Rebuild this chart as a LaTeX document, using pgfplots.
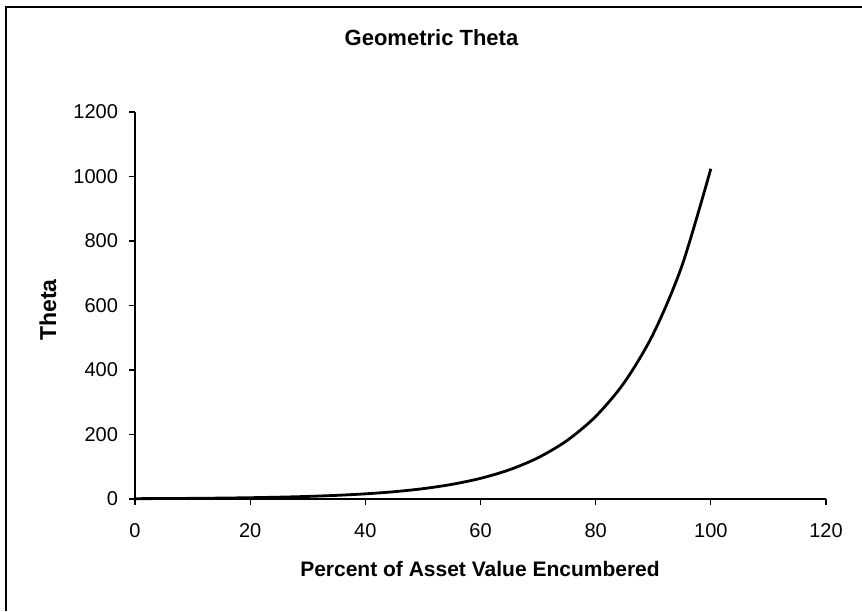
\documentclass[border=0pt]{standalone}
\usepackage{pgfplots}
\pgfplotsset{compat=1.18}
\usepackage{fontspec}
\setmainfont{Liberation Sans}
\begin{document}
\begin{tikzpicture}[x=0.5pt,y=0.5pt]
\begin{axis}[
  at={(67.5pt,56pt)}, anchor=south west,
  width=345.5pt, height=193.5pt, scale only axis,
  xmin=0, xmax=120, ymin=0, ymax=1200,
  xtick={0,20,...,120}, ytick={0,200,...,1200},
  axis x line=bottom, axis y line=left,
  axis line style={-, line width=0.6pt},
  tick style={line width=0.6pt, black},
  tick align=outside, major tick length=3pt,
  /pgf/number format/assume math mode=true,
  /pgf/number format/1000 sep={},
  ticklabel style={font=\fontsize{10}{12}\selectfont},
  xticklabel style={yshift=-5.5pt},
  yticklabel style={xshift=-2pt},
  clip=false,
]
\addplot[black, line width=1.4pt, smooth] coordinates {
(0,1) (5,1.41) (10,2) (15,2.83) (20,4) (25,5.66) (30,8) (35,11.3) (40,16) (45,22.6)
(50,32) (55,45.3) (60,64) (65,90.5) (70,128) (75,181) (80,256) (85,362) (90,512) (95,724) (100,1024)
};
\end{axis}
\node[font=\bfseries\fontsize{11}{13}\selectfont] at (431.5,573) {Geometric Theta};
\node[font=\bfseries\fontsize{10.5}{12}\selectfont] at (480,42) {Percent of Asset Value Encumbered};
\node[font=\bfseries\fontsize{11.5}{13}\selectfont, rotate=90] at (48,301) {Theta};
\draw[line width=0.75pt] (6,0) -- (6,604) -- (862,604);
\pgfresetboundingbox
\useasboundingbox (0,0) rectangle (862,611);
\end{tikzpicture}
\end{document}
